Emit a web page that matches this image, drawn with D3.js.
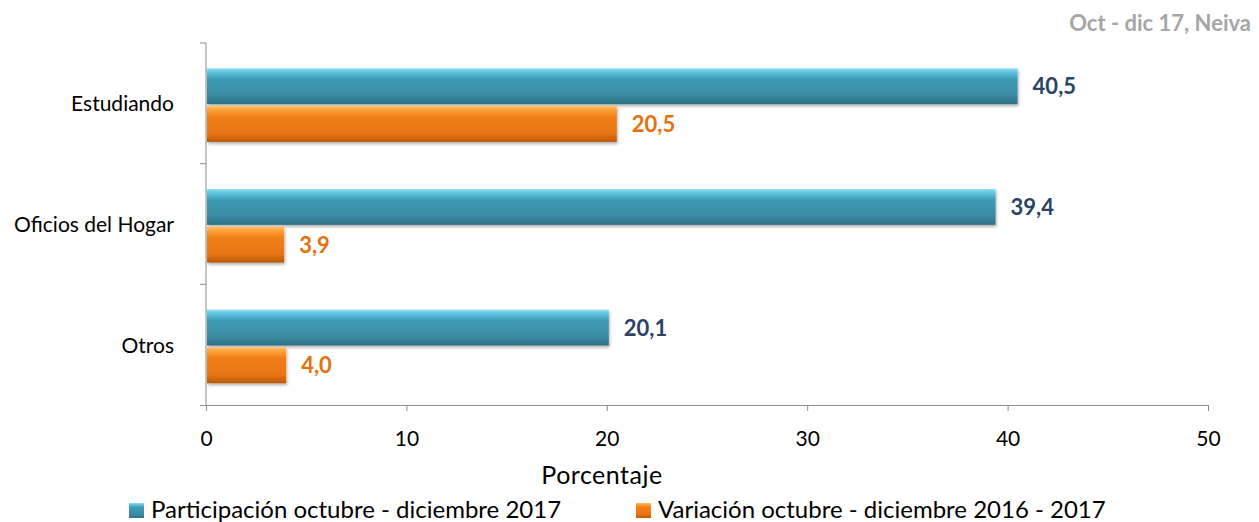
<!DOCTYPE html>
<html lang="es">
<head>
<meta charset="UTF-8">
<title>Oct - dic 17, Neiva</title>
<script src="https://d3js.org/d3.v7.min.js"></script>
<style>
    body { margin: 0; background: #fff; }
    svg text { font-family: Lato, "Open Sans", sans-serif; }
    .axis path, .axis line { stroke: #8c8c8c; }
</style>
</head>
<body>
<div id="chart"></div>
<script>
    // data
    const categories = ["Estudiando", "Oficios del Hogar", "Otros"];
    const seriesNames = ["Participación octubre - diciembre 2017", "Variación octubre - diciembre 2016 - 2017"];
    const participacion = [40.5, 39.4, 20.1];
    const variacion = [20.5, 3.9, 4.0];
    const xTicks = [0, 10, 20, 30, 40, 50];

    const width = 1259, height = 522;
    const x0 = 206, x1 = 1208, yTop = 43, yBottom = 405;

    const svg = d3.select("#chart").append("svg")
        .attr("width", width).attr("height", height);

    const defs = svg.append("defs");
    function grad(id, stops) {
        const g = defs.append("linearGradient").attr("id", id)
            .attr("x1", 0).attr("y1", 0).attr("x2", 0).attr("y2", 1);
        stops.forEach(s => g.append("stop").attr("offset", s[0]).attr("stop-color", s[1]));
    }
    grad("gBlue", [[0, "#8ee0f5"], [0.1, "#62c6e2"], [0.3, "#3e9bb5"], [0.75, "#3a8ba3"], [1, "#2c6f84"]]);
    grad("gOrange", [[0, "#ffc06a"], [0.1, "#ffa43a"], [0.3, "#f07e18"], [0.75, "#ea7512"], [1, "#b85a0c"]]);
    const shadow = defs.append("filter").attr("id", "shadow")
        .attr("x", "-5%").attr("y", "-30%").attr("width", "110%").attr("height", "170%");
    shadow.append("feDropShadow").attr("dx", 1).attr("dy", 2).attr("stdDeviation", 1.5)
        .attr("flood-color", "#000").attr("flood-opacity", 0.3);

    const x = d3.scaleLinear().domain([0, 50]).range([x0, x1]);
    const y = d3.scaleBand().domain(categories).range([yTop, yBottom]);
    const ySub = d3.scaleBand().domain([0, 1]).range([y.bandwidth() * 0.21, y.bandwidth() * 0.82]).paddingInner(0.05);

    // axes
    svg.append("g").attr("class", "axis")
        .attr("transform", `translate(0,${yBottom})`)
        .call(d3.axisBottom(x).tickValues(xTicks).tickSize(6).tickPadding(20).tickSizeOuter(0))
        .call(g => g.select(".domain").attr("d", `M${x0 - 6},0.5H${x1}`))
        .call(g => g.selectAll("text").attr("fill", "#000").style("font-size", "21px"));

    const yAxis = svg.append("g").attr("class", "axis").attr("transform", `translate(${x0},0)`);
    yAxis.append("line").attr("x1", 0).attr("x2", 0).attr("y1", yTop).attr("y2", yBottom);
    yAxis.selectAll(".tk").data(categories).join("line").attr("class", "tk")
        .attr("x1", -6).attr("x2", 0)
        .attr("y1", d => y(d)).attr("y2", d => y(d));

    svg.selectAll(".cat").data(categories).join("text").attr("class", "cat")
        .attr("x", 174).attr("y", d => y(d) + y.bandwidth() / 2 + 8)
        .attr("text-anchor", "end").style("font-size", "21px").text(d => d);

    // bars
    const series = [
        { values: participacion, fill: "url(#gBlue)", label: "#2b4365" },
        { values: variacion, fill: "url(#gOrange)", label: "#e4710d" }
    ];
    series.forEach((s, i) => {
        const g = svg.append("g");
        g.selectAll("rect").data(s.values).join("rect")
            .attr("x", x(0) + 1)
            .attr("y", (d, j) => y(categories[j]) + ySub(i))
            .attr("width", d => x(d) - x(0) - 1)
            .attr("height", ySub.bandwidth())
            .attr("fill", s.fill)
            .attr("filter", "url(#shadow)");
        g.selectAll("text").data(s.values).join("text")
            .attr("x", d => x(d) + 15)
            .attr("y", (d, j) => y(categories[j]) + ySub(i) + ySub.bandwidth() / 2 + 8)
            .attr("fill", s.label).style("font-size", "22px").style("font-weight", "bold")
            .text(d => d.toFixed(1).replace(".", ","));
    });

    // axis title
    svg.append("text").attr("x", 602).attr("y", 484)
        .attr("text-anchor", "middle").style("font-size", "25px").style("letter-spacing", "0.5px")
        .text("Porcentaje");

    // top right note
    svg.append("text").attr("x", 1251).attr("y", 31).attr("text-anchor", "end")
        .attr("fill", "#a6a6a6").style("font-size", "22px").style("font-weight", "bold")
        .text("Oct - dic 17, Neiva");

    // legend
    const legendX = [129, 636];
    const legendFill = ["url(#gBlue)", "url(#gOrange)"];
    seriesNames.forEach((name, i) => {
        svg.append("rect").attr("x", legendX[i]).attr("y", 503)
            .attr("width", 15).attr("height", 15).attr("fill", legendFill[i]);
        svg.append("text").attr("x", legendX[i] + 22).attr("y", 518)
            .style("font-size", "24px").text(name);
    });
</script>
</body>
</html>
